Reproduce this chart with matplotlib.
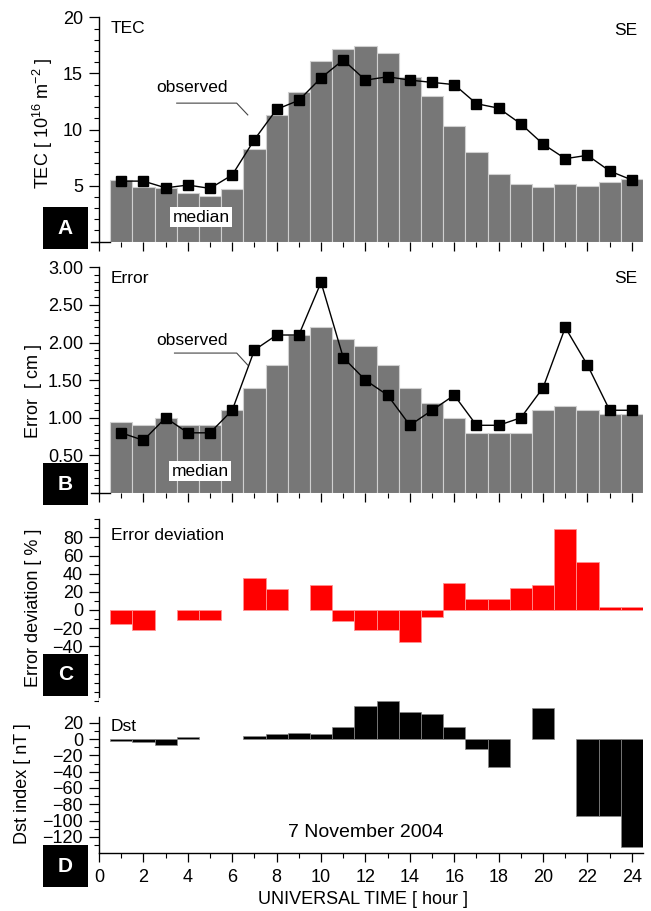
import numpy as np
import matplotlib
matplotlib.use("Agg")
import matplotlib.pyplot as plt
from matplotlib.patches import Rectangle
from matplotlib.ticker import MultipleLocator, FixedLocator

plt.rcParams['font.family'] = ['Liberation Sans', 'DejaVu Sans']
plt.rcParams['mathtext.default'] = 'regular'

hours = list(range(1, 25))

tec_median = [5.5, 4.9, 4.8, 4.35, 4.1, 4.7, 8.3, 11.3, 13.3, 16.1, 17.2, 17.4,
              16.8, 14.65, 13.0, 10.3, 8.0, 6.05, 5.1, 4.85, 5.1, 4.95, 5.3, 5.55]
tec_observed = [5.4, 5.4, 4.8, 5.05, 4.75, 5.95, 9.1, 11.8, 12.6, 14.6, 16.2, 14.4,
                14.7, 14.4, 14.2, 14.0, 12.3, 11.9, 10.5, 8.7, 7.4, 7.7, 6.3, 5.5]

err_median = [0.95, 0.9, 1.0, 0.9, 0.9, 1.1, 1.4, 1.7, 2.1, 2.2, 2.05, 1.95,
              1.7, 1.4, 1.2, 1.0, 0.8, 0.8, 0.8, 1.1, 1.15, 1.1, 1.05, 1.05]
err_observed = [0.8, 0.7, 1.0, 0.8, 0.8, 1.1, 1.9, 2.1, 2.1, 2.8, 1.8, 1.5,
                1.3, 0.9, 1.1, 1.3, 0.9, 0.9, 1.0, 1.4, 2.2, 1.7, 1.1, 1.1]

err_deviation = [-15, -22, None, -11, -11, None, 35, 23, None, 27, -12, -22.5,
                 -22.5, -35, -8, 29.5, 12, 12, 24.5, 27, 89, 53, 3, 3]

dst_index = [-3, -4, -7, 2, None, None, 4, 6, 7.5, 6, 15, 41,
             47, 33.5, 31, 15, -12, -34, None, 37.5, None, -94, -94, -132]

x_ticks = list(range(0, 25, 2))

W, H = 651, 911
fig = plt.figure(figsize=(W / 100, H / 100), dpi=100)


def fx(px):
    return px / W


def fy(py):
    return 1 - py / H


left = fx(99)
width = fx(643) - fx(99)


def make_ax(top_px, bottom_px):
    return fig.add_axes([left, fy(bottom_px), width, fy(top_px) - fy(bottom_px)])


axA = make_ax(17.3, 241.7)
axB = make_ax(267.3, 493.0)
axC = make_ax(519.2, 700.8)
axD = make_ax(698.2, 853.3)

BAR_GRAY = '#777777'
EDGE_GRAY = '#d0d0d0'
TICK_FS = 13


def style(ax, show_xticks=True, bottom_spine=False):
    for s in ['top', 'right']:
        ax.spines[s].set_visible(False)
    ax.spines['bottom'].set_visible(bottom_spine)
    ax.spines['left'].set_linewidth(1.0)
    ax.set_xlim(0, 24.5)
    ax.tick_params(axis='y', which='major', direction='out', length=7, width=0.9,
                   labelsize=TICK_FS, pad=4.5)
    ax.tick_params(axis='y', which='minor', direction='out', length=3.5, width=0.8)
    if show_xticks:
        ax.xaxis.set_major_locator(FixedLocator(x_ticks))
        ax.xaxis.set_minor_locator(MultipleLocator(1))
        ax.tick_params(axis='x', which='major', direction='out', length=6.5, width=0.9)
        ax.tick_params(axis='x', which='minor', direction='out', length=3.5, width=0.8)
    else:
        ax.set_xticks([])
        ax.xaxis.set_minor_locator(FixedLocator([]))


# ---------- Panel A ----------
axA.bar(hours, tec_median, width=1.0, color=BAR_GRAY, edgecolor=EDGE_GRAY, linewidth=0.8, zorder=2)
axA.plot(hours, tec_observed, color='black', lw=1.0, marker='s', ms=6.5, zorder=3)
axA.set_ylim(0, 20)
style(axA)
axA.set_yticks([5, 10, 15, 20])
axA.yaxis.set_minor_locator(MultipleLocator(1))
axA.set_xticklabels([])
axA.set_ylabel('TEC [ 10$^{16}$ m$^{-2}$ ]', fontsize=13)
axA.yaxis.set_label_coords(-0.080, 0.53)
axA.text(0.022, 0.985, 'TEC', transform=axA.transAxes, ha='left', va='top', fontsize=12.5)
axA.text(0.99, 0.975, 'SE', transform=axA.transAxes, ha='right', va='top', fontsize=12.5)
axA.text(4.2, 13.7, 'observed', ha='center', va='center', fontsize=12.5, zorder=5)
axA.plot([3.5, 6.2, 6.7], [12.35, 12.35, 11.3], color='#444444', lw=0.8, zorder=5)
axA.text(4.6, 2.2, 'median', ha='center', va='center', fontsize=12.5, zorder=5,
         bbox=dict(boxstyle='square,pad=0.15', fc='white', ec='none'))
axA.plot([-0.35, 0.5], [0, 0], color='black', lw=1.0, clip_on=False)

# ---------- Panel B ----------
axB.bar(hours, err_median, width=1.0, color=BAR_GRAY, edgecolor=EDGE_GRAY, linewidth=0.8, zorder=2)
axB.plot(hours, err_observed, color='black', lw=1.0, marker='s', ms=6.5, zorder=3)
axB.set_ylim(0, 3.0)
style(axB)
axB.set_yticks([0.5, 1.0, 1.5, 2.0, 2.5, 3.0])
axB.set_yticklabels(['0.50', '1.00', '1.50', '2.00', '2.50', '3.00'])
axB.yaxis.set_minor_locator(MultipleLocator(0.1))
axB.set_xticklabels([])
axB.set_ylabel('Error  [ cm ]', fontsize=13)
axB.yaxis.set_label_coords(-0.105, 0.45)
axB.text(0.022, 0.985, 'Error', transform=axB.transAxes, ha='left', va='top', fontsize=12.5)
axB.text(0.99, 0.985, 'SE', transform=axB.transAxes, ha='right', va='top', fontsize=12.5)
axB.text(4.2, 2.03, 'observed', ha='center', va='center', fontsize=12.5, zorder=5)
axB.plot([3.4, 6.2, 6.7], [1.86, 1.86, 1.70], color='#444444', lw=0.8, zorder=5)
axB.text(4.55, 0.29, 'median', ha='center', va='center', fontsize=12.5, zorder=5,
         bbox=dict(boxstyle='square,pad=0.15', fc='white', ec='none'))
axB.plot([-0.35, 0.5], [0, 0], color='black', lw=1.0, clip_on=False)

# ---------- Panel C ----------
c_h = [h for h, v in zip(hours, err_deviation) if v is not None]
c_v = [v for v in err_deviation if v is not None]
axC.bar(c_h, c_v, width=1.0, color='#ff0000', edgecolor='#ff9090', linewidth=0.6, zorder=2)
axC.set_ylim(-100, 100)
style(axC, show_xticks=False)
axC.set_yticks([-40, -20, 0, 20, 40, 60, 80])
axC.yaxis.set_minor_locator(FixedLocator(list(range(-100, 101, 10))))
axC.set_ylabel('Error deviation [ % ]', fontsize=13)
axC.yaxis.set_label_coords(-0.105, 0.51)
axC.text(0.022, 0.95, 'Error deviation', transform=axC.transAxes, ha='left', va='top', fontsize=12.5)

# ---------- Panel D ----------
d_h = [h for h, v in zip(hours, dst_index) if v is not None]
d_v = [v for v in dst_index if v is not None]
axD.bar(d_h, d_v, width=1.0, color='black', edgecolor='#888888', linewidth=0.5, zorder=2)
axD.set_ylim(-140, 50)
style(axD, bottom_spine=True)
axD.spines['left'].set_bounds(-140, 27)
axD.spines['bottom'].set_linewidth(1.0)
axD.set_yticks([-120, -100, -80, -60, -40, -20, 0, 20])
axD.yaxis.set_minor_locator(FixedLocator(list(range(-130, 21, 10))))
axD.set_xticklabels([str(t) for t in x_ticks])
axD.tick_params(axis='x', which='major', labelsize=13, pad=5)
axD.set_ylabel('Dst index [ nT ]', fontsize=13)
axD.yaxis.set_label_coords(-0.125, 0.45)
axD.set_xlabel('UNIVERSAL TIME [ hour ]', fontsize=13)
axD.xaxis.set_label_coords(0.485, -0.24)
axD.text(0.022, 0.865, 'Dst', transform=axD.transAxes, ha='left', va='top', fontsize=12.5)
axD.text(12.0, -115, '7 November 2004', ha='center', va='center', fontsize=14)

# ---------- letter boxes ----------
letters = ['A', 'B', 'C', 'D']
box_tops = [207, 463, 654, 845]
for letter, top in zip(letters, box_tops):
    x0, x1 = fx(43), fx(88)
    y0, y1 = fy(top + 42), fy(top)
    fig.patches.append(Rectangle((x0, y0), x1 - x0, y1 - y0, transform=fig.transFigure,
                                 facecolor='black', edgecolor='none', zorder=10))
    fig.text((x0 + x1) / 2, (y0 + y1) / 2, letter, color='white', fontsize=15,
             fontweight='bold', ha='center', va='center', zorder=11)

fig.savefig('out.png', dpi=100)
